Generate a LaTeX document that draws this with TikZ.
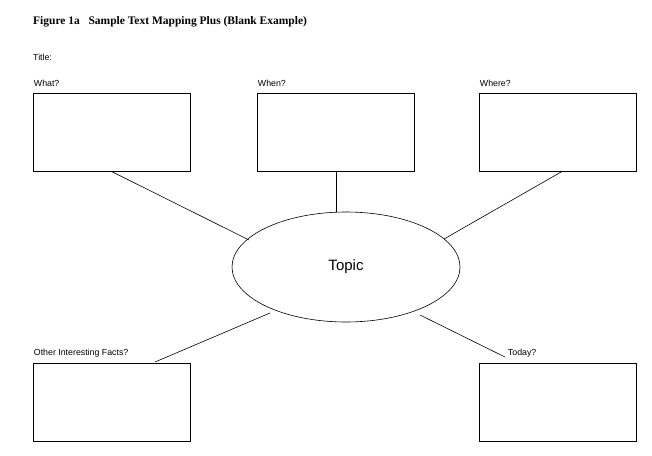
\documentclass[tikz,border=0pt]{standalone}
\usepackage{fontspec}
\setmainfont{Liberation Sans}
\newfontfamily\headfont{Liberation Serif}
\usetikzlibrary{shapes.geometric}

\begin{document}
\begin{tikzpicture}[x=1pt,y=1pt,yscale=-1,xscale=1]
\tikzset{
  mapbox/.style={draw, line width=0.6pt, minimum width=157pt, minimum height=78pt, anchor=north west, inner sep=0pt},
  boxlabel/.style={anchor=south west, inner sep=0.75pt, font=\fontsize{8.8}{10}\selectfont},
  link/.style={line width=0.6pt}
}
\useasboundingbox (0,0) rectangle (652,455);

% Heading
\node (head) [anchor=west, inner sep=0pt, font=\headfont\bfseries\fontsize{11.5}{13}\selectfont] at (33,22) {Figure 1a\enspace\ Sample Text Mapping Plus (Blank Example)};
\node (title) [anchor=west, inner sep=0pt, font=\fontsize{8.8}{10}\selectfont] at (33,57) {Title:};

% Boxes
\node (what) [mapbox] at (33,93) {};
\node (when) [mapbox] at (257,93) {};
\node (where) [mapbox] at (479,93) {};
\node (facts) [mapbox] at (33,363) {};
\node (today) [mapbox] at (479,363) {};

% Labels
\node (whatlbl) [boxlabel] at (33,88) {What?};
\node (whenlbl) [boxlabel] at (257,88) {When?};
\node (wherelbl) [boxlabel] at (479,88) {Where?};
\node (factslbl) [boxlabel] at (33,358) {Other Interesting Facts?};
\node (todaylbl) [boxlabel] at (507,358) {Today?};

% Topic
\node (topic) [draw, line width=0.6pt, ellipse, minimum width=228pt, minimum height=110pt, inner sep=0pt, font=\fontsize{15}{17}\selectfont] at (346,267) {Topic};

% Connectors
\coordinate (whatend) at (249,240);
\coordinate (whereend) at (444,239);
\coordinate (factsstart) at (270,313);
\coordinate (factsend) at (155,362);
\coordinate (todaystart) at (420,315);
\coordinate (todayend) at (505,357);
\draw [link] (what.south) -- (whatend);
\draw [link] (when.south) -- (topic.north -| when.south);
\draw [link] ([xshift=4pt]where.south) -- (whereend);
\draw [link] (factsstart) -- (factsend);
\draw [link] (todaystart) -- (todayend);
\end{tikzpicture}
\end{document}
